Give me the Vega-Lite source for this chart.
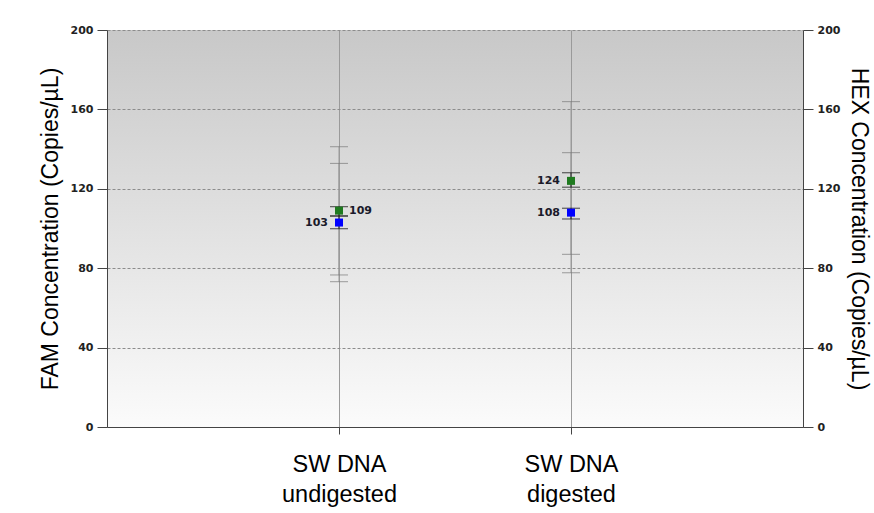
{
  "$schema": "https://vega.github.io/schema/vega-lite/v6.json",
  "width": 696,
  "height": 397,
  "autosize": {"type": "none"},
  "padding": {"left": 107, "top": 30, "right": 71, "bottom": 86},
  "background": "white",
  "config": {
    "view": {
      "stroke": null,
      "fill": {"gradient": "linear", "x1": 0, "y1": 0, "x2": 0, "y2": 1, "stops": [{"offset": 0, "color": "#c8c8c8"}, {"offset": 1, "color": "#fbfbfb"}]}
    },
    "axis": {"domainColor": "#444", "tickColor": "#444"}
  },
  "data": {
    "values": [
      {"sample": "SW DNA|undigested", "channel": "HEX", "conc": 109, "ciLow": 106.3, "ciHigh": 111.0, "totLow": 73.2, "totHigh": 141.2},
      {"sample": "SW DNA|undigested", "channel": "FAM", "conc": 103, "ciLow": 99.9, "ciHigh": 106.3, "totLow": 76.6, "totHigh": 132.8},
      {"sample": "SW DNA|digested", "channel": "HEX", "conc": 124, "ciLow": 120.8, "ciHigh": 128.1, "totLow": 77.7, "totHigh": 163.9},
      {"sample": "SW DNA|digested", "channel": "FAM", "conc": 108, "ciLow": 104.8, "ciHigh": 110.2, "totLow": 87.0, "totHigh": 138.2}
    ]
  },
  "encoding": {
    "x": {
      "field": "sample", "type": "nominal",
      "sort": ["SW DNA|undigested", "SW DNA|digested"],
      "scale": {"type": "point", "padding": 1},
      "axis": {
        "title": null, "labelAngle": 0,
        "labelExpr": "split(datum.value, '|')",
        "labelFont": "Liberation Sans", "labelFontSize": 23.5, "labelColor": "#000",
        "labelLineHeight": 30, "labelPadding": 18, "tickSize": 7,
        "grid": true, "gridColor": "#9a9a9a", "gridWidth": 1,
        "domainColor": "#444"
      }
    }
  },
  "resolve": {"scale": {"y": "shared"}, "axis": {"y": "independent"}},
  "layer": [
    {
      "mark": {"type": "rule", "color": "#9a9a9a", "strokeWidth": 1},
      "encoding": {
        "y": {
          "field": "totLow", "type": "quantitative",
          "scale": {"domain": [0, 200], "nice": false},
          "axis": {
            "orient": "left", "title": "FAM Concentration (Copies/µL)",
            "values": [0, 40, 80, 120, 160, 200],
            "labelFont": "DejaVu Sans", "labelFontWeight": "bold", "labelFontSize": 11, "labelColor": "#222",
            "tickSize": 10, "labelPadding": 4,
            "titleFont": "Liberation Sans", "titleFontSize": 23, "titleFontWeight": "normal", "titleColor": "#000", "titlePadding": 8,
            "grid": true, "gridColor": "#8c8c8c", "gridDash": [3, 2], "gridWidth": 1
          }
        },
        "y2": {"field": "totHigh"}
      }
    },
    {
      "mark": {"type": "tick", "color": "#777", "thickness": 1, "size": 18},
      "encoding": {
        "y": {
          "field": "totHigh", "type": "quantitative",
          "axis": {
            "orient": "right", "title": "HEX Concentration (Copies/µL)",
            "values": [0, 40, 80, 120, 160, 200],
            "labelFont": "DejaVu Sans", "labelFontWeight": "bold", "labelFontSize": 11, "labelColor": "#222",
            "tickSize": 10, "labelPadding": 4,
            "titleFont": "Liberation Sans", "titleFontSize": 23, "titleFontWeight": "normal", "titleColor": "#000", "titlePadding": 7,
            "grid": false
          }
        }
      }
    },
    {
      "mark": {"type": "tick", "color": "#777", "thickness": 1, "size": 18},
      "encoding": {"y": {"field": "totLow", "type": "quantitative", "axis": null}}
    },
    {
      "mark": {"type": "rule", "color": "#222", "strokeWidth": 1},
      "encoding": {"y": {"field": "ciLow", "type": "quantitative", "axis": null}, "y2": {"field": "ciHigh"}}
    },
    {
      "mark": {"type": "tick", "color": "#222", "thickness": 1.2, "size": 18},
      "encoding": {"y": {"field": "ciLow", "type": "quantitative", "axis": null}}
    },
    {
      "mark": {"type": "tick", "color": "#222", "thickness": 1.2, "size": 18},
      "encoding": {"y": {"field": "ciHigh", "type": "quantitative", "axis": null}}
    },
    {
      "mark": {"type": "square", "size": 64, "opacity": 1, "filled": true},
      "encoding": {
        "y": {"field": "conc", "type": "quantitative", "axis": null},
        "color": {"field": "channel", "type": "nominal", "scale": {"domain": ["FAM", "HEX"], "range": ["#0000ff", "#1f7a1f"]}, "legend": null}
      }
    },
    {
      "transform": [{"filter": "datum.channel == 'HEX' && datum.sample == 'SW DNA|undigested'"}],
      "mark": {"type": "text", "align": "left", "baseline": "middle", "dx": 10, "font": "DejaVu Sans", "fontWeight": "bold", "fontSize": 11, "color": "#1a1a2a"},
      "encoding": {"y": {"field": "conc", "type": "quantitative", "axis": null}, "text": {"field": "conc", "type": "quantitative"}}
    },
    {
      "transform": [{"filter": "!(datum.channel == 'HEX' && datum.sample == 'SW DNA|undigested')"}],
      "mark": {"type": "text", "align": "right", "baseline": "middle", "dx": -11, "font": "DejaVu Sans", "fontWeight": "bold", "fontSize": 11, "color": "#1a1a2a"},
      "encoding": {"y": {"field": "conc", "type": "quantitative", "axis": null}, "text": {"field": "conc", "type": "quantitative"}}
    }
  ]
}
